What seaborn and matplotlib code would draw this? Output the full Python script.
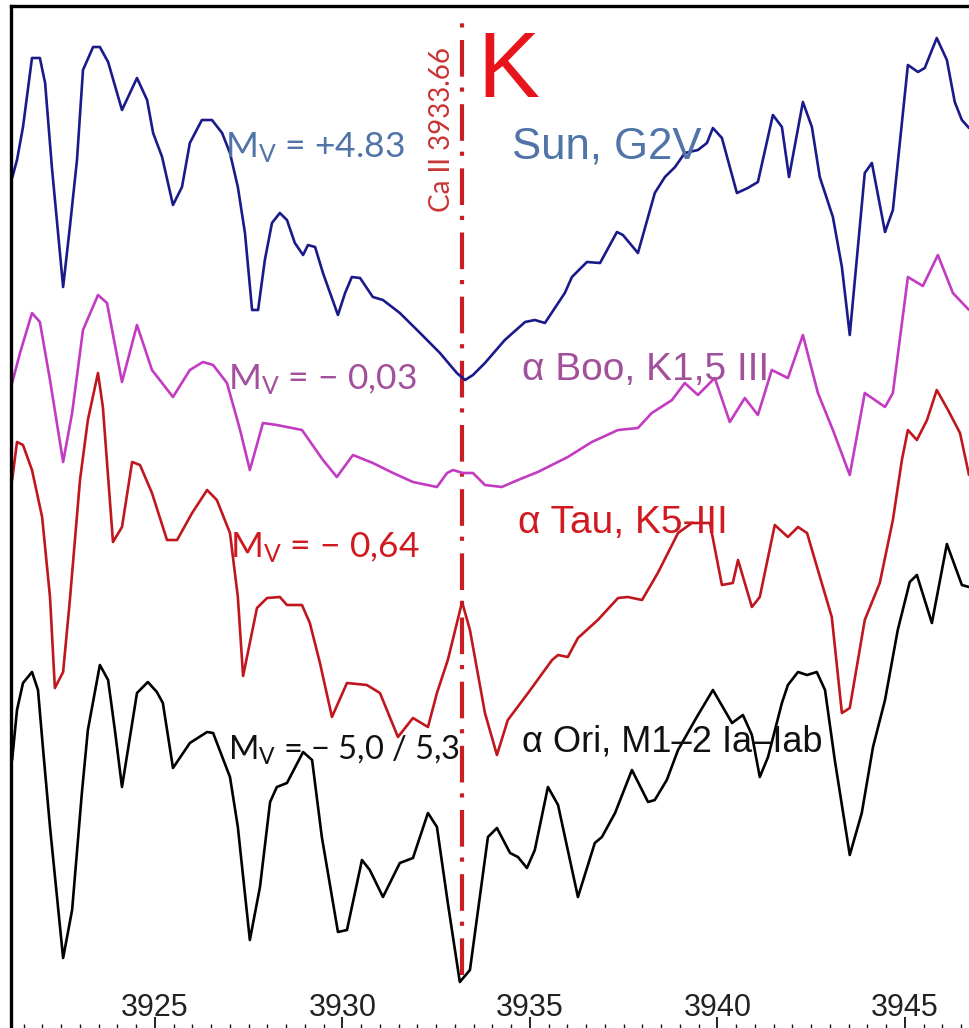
import matplotlib
matplotlib.use("Agg")
import matplotlib.pyplot as plt
import seaborn as sns
from matplotlib.ticker import MultipleLocator

# ---------------- data (wavelength in Å, relative flux with vertical offsets) ----------------
sun_wl = [3921.19, 3921.32, 3921.48, 3921.72, 3921.93, 3922.07, 3922.25, 3922.55, 3922.73, 3922.92,
          3923.08, 3923.35, 3923.53, 3923.75, 3924.12, 3924.52, 3924.79, 3924.95, 3925.19, 3925.48,
          3925.72, 3925.93, 3926.25, 3926.52, 3926.79, 3927.00, 3927.21, 3927.40, 3927.59, 3927.75,
          3927.93, 3928.12, 3928.33, 3928.52, 3928.73, 3928.95, 3929.08, 3929.27, 3929.48, 3929.88,
          3930.07, 3930.25, 3930.47, 3930.81, 3931.08, 3931.53, 3932.07, 3932.60, 3933.05, 3933.27,
          3933.48, 3933.80, 3934.33, 3934.87, 3935.13, 3935.40, 3935.93, 3936.12, 3936.52, 3936.87,
          3937.32, 3937.48, 3937.88, 3938.33, 3938.60, 3938.87, 3939.13, 3939.48, 3939.72, 3939.88,
          3940.12, 3940.52, 3940.81, 3941.08, 3941.48, 3941.72, 3941.91, 3942.28, 3942.52, 3942.73,
          3943.08, 3943.32, 3943.53, 3943.93, 3944.12, 3944.47, 3944.68, 3945.08, 3945.35, 3945.53,
          3945.85, 3946.12, 3946.33, 3946.52, 3946.71]
sun_flux = [8.53, 8.71, 9.04, 9.73, 9.73, 9.48, 8.64, 7.44, 8.04, 8.71,
            9.61, 9.84, 9.84, 9.69, 9.21, 9.53, 9.31, 8.98, 8.74, 8.26,
            8.44, 8.88, 9.11, 9.11, 8.98, 8.78, 8.44, 7.98, 7.21, 7.21,
            7.71, 8.08, 8.18, 8.11, 7.88, 7.76, 7.86, 7.84, 7.58, 7.16,
            7.38, 7.54, 7.53, 7.34, 7.31, 7.18, 6.98, 6.78, 6.58, 6.51,
            6.56, 6.68, 6.91, 7.09, 7.11, 7.08, 7.38, 7.54, 7.69, 7.68,
            7.99, 7.96, 7.78, 8.38, 8.54, 8.64, 8.78, 8.81, 8.88, 9.03,
            8.93, 8.38, 8.43, 8.49, 9.16, 9.04, 8.54, 9.29, 9.04, 8.54,
            8.14, 7.64, 6.96, 8.58, 8.68, 7.99, 8.21, 9.66, 9.59, 9.63,
            9.93, 9.71, 9.29, 9.11, 9.03]

boo_wl = [3921.19, 3921.40, 3921.72, 3921.93, 3922.20, 3922.55, 3922.79, 3923.08, 3923.48, 3923.72,
          3924.12, 3924.52, 3924.92, 3925.48, 3925.93, 3926.28, 3926.55, 3926.92, 3927.27, 3927.53,
          3927.88, 3928.25, 3928.92, 3929.48, 3929.85, 3930.28, 3930.81, 3931.35, 3931.88, 3932.52,
          3932.79, 3932.95, 3933.21, 3933.48, 3933.80, 3934.25, 3934.68, 3935.21, 3936.01, 3936.65,
          3937.35, 3937.88, 3938.25, 3938.79, 3939.13, 3939.48, 3939.93, 3940.33, 3940.73, 3941.08,
          3941.45, 3941.88, 3942.28, 3942.68, 3943.08, 3943.53, 3943.93, 3944.47, 3944.68, 3945.08,
          3945.48, 3945.88, 3946.28, 3946.71]
boo_flux = [6.48, 6.78, 7.18, 7.09, 6.51, 5.69, 6.18, 7.01, 7.36, 7.28,
            6.49, 7.06, 6.61, 6.34, 6.61, 6.69, 6.66, 6.48, 6.01, 5.61,
            6.08, 6.06, 6.01, 5.71, 5.54, 5.76, 5.68, 5.58, 5.49, 5.44,
            5.58, 5.61, 5.58, 5.58, 5.46, 5.44, 5.51, 5.59, 5.74, 5.89,
            6.01, 6.03, 6.18, 6.31, 6.48, 6.36, 6.53, 6.09, 6.33, 6.16,
            6.61, 6.53, 6.96, 6.38, 6.01, 5.56, 6.38, 6.24, 6.38, 7.54,
            7.45, 7.76, 7.38, 7.21]

tau_wl = [3921.19, 3921.32, 3921.48, 3921.72, 3921.99, 3922.20, 3922.33, 3922.55, 3922.73, 3923.00,
          3923.21, 3923.48, 3923.61, 3923.88, 3924.12, 3924.39, 3924.60, 3924.92, 3925.32, 3925.59,
          3925.99, 3926.39, 3926.65, 3927.00, 3927.21, 3927.35, 3927.72, 3927.99, 3928.33, 3928.52,
          3928.92, 3929.13, 3929.40, 3929.72, 3930.12, 3930.65, 3931.00, 3931.48, 3931.88, 3932.28,
          3932.52, 3932.81, 3933.19, 3933.40, 3933.80, 3934.12, 3934.41, 3934.95, 3935.59, 3935.75,
          3936.01, 3936.28, 3936.81, 3937.35, 3937.61, 3937.99, 3938.41, 3938.95, 3939.32, 3939.80,
          3940.12, 3940.41, 3940.55, 3940.92, 3941.13, 3941.53, 3941.88, 3942.15, 3942.39, 3942.68,
          3943.05, 3943.32, 3943.53, 3943.93, 3944.33, 3944.68, 3944.92, 3945.08, 3945.32, 3945.59,
          3945.85, 3946.15, 3946.47, 3946.71]
tau_flux = [5.51, 5.89, 5.86, 5.61, 5.14, 4.34, 3.43, 3.59, 4.31, 5.51,
            6.11, 6.58, 6.24, 4.89, 5.04, 5.69, 5.66, 5.38, 4.91, 4.91,
            5.18, 5.41, 5.31, 4.98, 4.34, 3.55, 4.23, 4.33, 4.34, 4.26,
            4.26, 4.08, 3.68, 3.14, 3.48, 3.46, 3.38, 2.94, 3.13, 3.04,
            3.38, 3.71, 4.29, 4.01, 3.18, 2.76, 3.11, 3.38, 3.71, 3.76,
            3.74, 3.93, 4.11, 4.33, 4.34, 4.31, 4.58, 4.98, 5.08, 5.08,
            4.46, 4.48, 4.71, 4.24, 4.34, 5.06, 4.94, 5.04, 4.98, 4.61,
            4.14, 3.18, 3.23, 4.11, 4.48, 5.11, 5.71, 6.01, 5.91, 6.11,
            6.41, 6.21, 5.98, 5.56]

ori_wl = [3921.19, 3921.32, 3921.48, 3921.72, 3921.88, 3922.01, 3922.20, 3922.55, 3922.79, 3923.05,
          3923.21, 3923.53, 3923.75, 3923.93, 3924.12, 3924.52, 3924.81, 3925.05, 3925.21, 3925.48,
          3925.93, 3926.39, 3926.55, 3927.00, 3927.21, 3927.53, 3927.80, 3928.07, 3928.25, 3928.52,
          3928.95, 3929.19, 3929.45, 3929.88, 3930.12, 3930.52, 3930.73, 3931.08, 3931.53, 3931.88,
          3932.28, 3932.52, 3932.81, 3933.13, 3933.40, 3933.88, 3934.12, 3934.47, 3934.68, 3934.92,
          3935.13, 3935.48, 3935.75, 3936.28, 3936.73, 3936.92, 3937.27, 3937.72, 3938.15, 3938.33,
          3938.65, 3938.95, 3939.45, 3939.88, 3940.39, 3940.68, 3940.92, 3941.13, 3941.35, 3941.72,
          3941.88, 3942.15, 3942.39, 3942.65, 3942.87, 3943.13, 3943.53, 3943.85, 3944.15, 3944.47,
          3944.81, 3945.13, 3945.32, 3945.72, 3946.12, 3946.52, 3946.71]
ori_flux = [2.71, 3.21, 3.48, 3.59, 3.41, 2.84, 2.04, 0.73, 1.21, 2.38,
            3.01, 3.66, 3.51, 3.01, 2.44, 3.38, 3.49, 3.39, 3.28, 2.63,
            2.88, 2.99, 2.98, 2.54, 2.04, 0.91, 1.44, 2.29, 2.44, 2.48,
            2.79, 2.71, 1.94, 0.99, 1.01, 1.71, 1.61, 1.34, 1.68, 1.73,
            2.18, 2.04, 1.28, 0.49, 0.61, 1.94, 2.03, 1.78, 1.74, 1.63,
            1.81, 2.44, 2.26, 1.34, 1.88, 1.94, 2.18, 2.61, 2.29, 2.31,
            2.51, 2.81, 3.14, 3.41, 3.08, 3.16, 2.96, 2.54, 2.74, 3.28,
            3.46, 3.59, 3.56, 3.59, 3.41, 2.71, 1.76, 2.18, 2.84, 3.31,
            4.01, 4.49, 4.56, 4.08, 4.87, 4.46, 4.44]

x_ticks = [3925, 3930, 3935, 3940, 3945]
ca_k_line = 3933.19            # drawn position of the Ca II K line
ca_k_label = "Ca II 3933.66"
mv_labels = [r"M$_\mathrm{V}$ = +4.83", r"M$_\mathrm{V}$ = − 0,03",
             r"M$_\mathrm{V}$ = − 0,64", r"M$_\mathrm{V}$ = − 5,0 / 5,3"]
star_labels = ["Sun, G2V", "α Boo, K1,5 III", "α Tau, K5-III", "α Ori, M1–2 Ia–Iab"]

# ---------------- style ----------------
sns.set_style("white")
plt.rcParams['font.family'] = ['Liberation Sans', 'DejaVu Sans']
plt.rcParams['mathtext.fontset'] = 'custom'
plt.rcParams['mathtext.rm'] = 'Lato'
plt.rcParams['mathtext.it'] = 'Lato:italic'
plt.rcParams['mathtext.bf'] = 'Lato:bold'

fig = plt.figure(figsize=(9.69, 10.28), dpi=100)
ax = fig.add_axes([11 / 969, -3 / 1028, 964 / 969, 1025 / 1028])

line_colors = ["#1a1a8a", "#c23bc2", "#c0161e", "#000000"]
series = [(sun_wl, sun_flux), (boo_wl, boo_flux), (tau_wl, tau_flux), (ori_wl, ori_flux)]
for (wl, fl), c in zip(series, line_colors):
    sns.lineplot(x=wl, y=fl, ax=ax, color=c, lw=1.9, estimator=None, sort=False)

# Ca II K marker
ax.plot([ca_k_line, ca_k_line], [0.56, 10.11], color="#c81e24", lw=3.0,
        linestyle=(0, (8.8, 3.0, 1.0, 2.6)), zorder=1)
ax.text(3932.65, 9.01, ca_k_label, rotation=90, ha='center', va='center',
        fontsize=20, color="#c83434", family=['Lato', 'DejaVu Sans'])
ax.text(3933.61, 9.34, "K", ha='left', va='baseline', fontsize=67, color="#e8141c")

# annotations
mv_pos = [(3926.87, 8.73), (3926.95, 6.41), (3927.00, 4.73), (3926.95, 2.71)]
star_pos = [(3934.52, 8.73), (3934.79, 6.51), (3934.68, 4.98), (3934.79, 2.79)]
text_colors = ["#5074a8", "#a24f9c", "#d01a20", "#111111"]
mv_sizes = [25.5, 25.5, 25.5, 23.5]
star_sizes = [31.5, 28, 28, 26]
for lab, (x, y), c, s in zip(mv_labels, mv_pos, text_colors, mv_sizes):
    ax.text(x, y, lab, ha='left', va='baseline', fontsize=s, color=c,
            family=['Lato', 'DejaVu Sans'])
for lab, (x, y), c, s in zip(star_labels, star_pos, text_colors, star_sizes):
    ax.text(x, y, lab, ha='left', va='baseline', fontsize=s, color=c)

# axes
ax.set_xlim(3921.16, 3946.87)
ax.set_ylim(0, 10.25)
ax.set_yticks([])
ax.set_xlabel("")
ax.set_ylabel("")
ax.set_xticks(x_ticks)
ax.set_xticklabels([str(t) for t in x_ticks])
ax.xaxis.set_minor_locator(MultipleLocator(0.5))
ax.tick_params(axis='x', which='major', direction='in', length=10, width=1.3,
               pad=-27, labelsize=22, labelcolor="#222222", color="#111111", bottom=True)
ax.tick_params(axis='x', which='minor', direction='in', length=5, width=1.0,
               color="#111111", bottom=True)
for sp in ax.spines.values():
    sp.set_visible(True)
    sp.set_color("#000000")
    sp.set_linewidth(2.4)

fig.savefig("out.png", dpi=100)
